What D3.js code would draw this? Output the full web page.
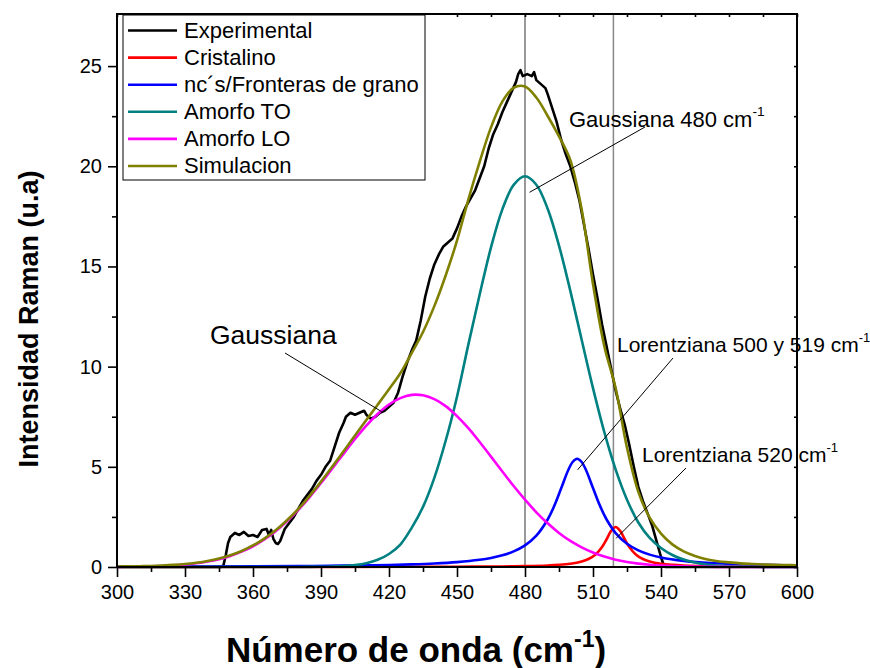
<!DOCTYPE html>
<html>
<head>
<meta charset="utf-8">
<script src="https://cdn.jsdelivr.net/npm/d3@7"></script>
<style>
  html, body { margin: 0; padding: 0; background: #fff; }
  svg { display: block; }
  text { font-family: "Liberation Sans", Arial, sans-serif; }
</style>
</head>
<body>
<svg id="chart" width="870" height="668"></svg>
<script>
// ---------------- data ----------------
const xTicks = [300, 330, 360, 390, 420, 450, 480, 510, 540, 570, 600];
const xMinorTicks = [315, 345, 375, 405, 435, 465, 495, 525, 555, 585];
const yTicks = [0, 5, 10, 15, 20, 25];
const yMinorTicks = [2.5, 7.5, 12.5, 17.5, 22.5];

const seriesNames = ["Experimental", "Cristalino", "nc´s/Fronteras de grano", "Amorfo TO", "Amorfo LO", "Simulacion"];
const seriesColors = ["#000000", "#ff0000", "#0000ff", "#008080", "#ff00ff", "#808000"];

// experimental spectrum
const expShift = [300,320,340,346,347,348,349,350,352,354,356,358,360,362,364,366,367,368,369,370,371,372,374,376,378,380,382,384,386,388,390,392,394,396,398,400,401,403,405,407,409,410,412,414,416,418,420,422,424,426,428,430,432,434,436,438,440,442,444,446,448,450,452,454,456,458,460,462,464,466,468,470,472,474,476,477,478,479,481,483,484,485,487,488,489,490,492,494,496,498,500,502,504,506,508,510,512,514,516,518,520,522,524,526,528,530,532,534,536,538,540,541,542,560,580,600];
const expIntensity = [0,0,0,0,0.1,0.6,1.2,1.5,1.7,1.6,1.75,1.55,1.6,1.5,1.85,1.9,1.6,1.85,1.4,1.2,1.15,1.3,1.9,2.2,2.5,2.9,3.3,3.6,3.9,4.3,4.6,5.0,5.3,6.0,6.7,7.2,7.5,7.7,7.6,7.7,7.8,7.6,7.4,7.5,7.7,7.8,8.0,8.2,8.7,9.5,10.2,10.8,11.3,12.3,13.5,14.4,15.1,15.6,16.0,16.2,16.4,16.9,17.5,18.0,18.4,18.8,19.4,20.0,20.9,21.6,22.1,22.7,23.2,23.7,24.2,24.6,24.8,24.5,24.6,24.5,24.7,24.3,24.1,24.0,23.9,23.6,22.9,22.2,21.3,20.6,20.0,19.2,18.3,17.1,15.9,14.6,13.4,12.1,11.0,9.9,8.8,7.9,7.1,6.1,5.0,4.0,3.3,2.7,2.1,1.3,0.5,0.15,0,0,0,0];

// Cristalino (Lorentziana 520)
const crShift = [300,350,400,430,450,460,470,480,490,495,500,505,508,511,514,516,518,520,522,524,526,529,532,535,540,545,550,560,570,580,600];
const crIntensity = [0.0015,0.0025,0.005,0.0088,0.0146,0.0198,0.0284,0.044,0.0769,0.109,0.165,0.276,0.40,0.615,1.0,1.385,1.8,2.0,1.8,1.385,1.0,0.615,0.40,0.276,0.165,0.109,0.0769,0.044,0.0284,0.0198,0.0111];

// nc's / Fronteras de grano (Lorentziana 500)
const ncShift = [300,320,340,360,380,400,410,420,430,440,450,460,465,470,475,480,485,490,493,496,499,501,503,505,507,510,513,516,520,525,530,535,540,550,560,570,580,590,600];
const ncIntensity = [0.0173,0.0212,0.0267,0.0347,0.0468,0.0665,0.0813,0.1017,0.1308,0.174,0.243,0.360,0.453,0.585,0.779,1.08,1.565,2.37,3.075,3.94,4.817,5.24,5.4,5.24,4.817,3.94,3.075,2.37,1.695,1.159,0.829,0.618,0.476,0.305,0.211,0.155,0.118,0.0928,0.0749];

// fitted Gaussians and simulation on a common grid
const fitShift = [300,305,310,315,320,325,330,335,340,345,350,355,360,365,370,375,380,385,390,395,400,405,410,415,420,425,430,435,440,445,450,455,460,465,470,475,480,485,490,495,500,505,510,515,520,525,530,535,540,545,550,555,560,565,570,575,580,585,590,595,600];
const amorfoTO = [0,0,0,0,0,0,0,0,0,0,0,0,0,0,0,0,0.002,0.004,0.009,0.021,0.046,0.096,0.19,0.36,0.65,1.12,1.95,3.0,4.45,6.3,8.5,11.1,13.6,15.95,17.85,19.07,19.5,19.08,17.88,16.04,13.78,11.34,8.93,6.73,4.86,3.36,2.22,1.45,0.95,0.60,0.37,0.22,0.12,0.07,0.04,0.02,0.01,0.005,0,0,0];
const amorfoLO = [0.007,0.012,0.020,0.032,0.051,0.080,0.123,0.185,0.272,0.392,0.553,0.765,1.036,1.376,1.79,2.28,2.85,3.49,4.19,4.92,5.66,6.39,7.06,7.64,8.11,8.43,8.59,8.57,8.38,8.03,7.53,6.93,6.24,5.51,4.77,4.04,3.36,2.73,2.18,1.70,1.30,0.98,0.72,0.52,0.36,0.25,0.17,0.113,0.074,0.047,0.029,0.018,0.011,0.006,0.004,0.002,0.001,0.001,0,0,0];
const simulacion = [0.026,0.032,0.040,0.053,0.074,0.104,0.148,0.212,0.30,0.42,0.586,0.80,1.074,1.416,1.83,2.33,2.90,3.55,4.26,5.01,5.78,6.56,7.34,8.10,8.87,9.67,10.68,11.73,13.02,14.55,16.29,18.34,20.22,21.94,23.23,23.92,23.98,23.43,22.51,21.49,20.31,17.84,14.12,11.02,8.92,5.95,3.75,2.46,1.67,1.13,0.78,0.55,0.39,0.29,0.23,0.18,0.15,0.126,0.108,0.096,0.086];

// reference lines (cm-1)
const refLines = [480, 519];

// ---------------- drawing ----------------
const svg = d3.select("#chart");
const m = { left: 117, right: 797, top: 14, bottom: 567 };
const x = d3.scaleLinear().domain([300, 600]).range([m.left, m.right]);
const y = d3.scaleLinear().domain([0, 27.6]).range([m.bottom, m.top]);

const zip = (xs, ys) => xs.map((v, i) => [v, ys[i]]);

// vertical reference lines
svg.append("line").attr("x1", x(refLines[0])).attr("x2", x(refLines[0]))
  .attr("y1", m.top).attr("y2", m.bottom).attr("stroke", "#333").attr("stroke-width", 1);
svg.append("line").attr("x1", x(refLines[1])).attr("x2", x(refLines[1]))
  .attr("y1", m.top).attr("y2", m.bottom).attr("stroke", "#888").attr("stroke-width", 1.5);

const smooth = d3.line().x(d => x(d[0])).y(d => y(d[1])).curve(d3.curveCatmullRom.alpha(0.5));
const raw = d3.line().x(d => x(d[0])).y(d => y(d[1]));

const series = [
  { data: zip(expShift, expIntensity), gen: raw },
  { data: zip(crShift, crIntensity), gen: smooth },
  { data: zip(ncShift, ncIntensity), gen: smooth },
  { data: zip(fitShift, amorfoTO), gen: smooth },
  { data: zip(fitShift, amorfoLO), gen: smooth },
  { data: zip(fitShift, simulacion), gen: smooth }
];
series.forEach((s, i) => {
  svg.append("path").attr("d", s.gen(s.data)).attr("fill", "none")
    .attr("stroke", seriesColors[i]).attr("stroke-width", 2.6)
    .attr("stroke-linejoin", "round");
});

// axes
const axisG = svg.append("g");
const xAxis = axisG.append("g").attr("transform", `translate(0,${m.bottom})`)
  .call(d3.axisBottom(x).tickValues(xTicks).tickSize(10).tickPadding(8).tickFormat(d3.format("d")));
const xMinor = axisG.append("g").attr("transform", `translate(0,${m.bottom})`)
  .call(d3.axisBottom(x).tickValues(xMinorTicks).tickSize(5).tickFormat(""));
const yAxis = axisG.append("g").attr("transform", `translate(${m.left},0)`)
  .call(d3.axisLeft(y).tickValues(yTicks).tickSize(9).tickPadding(6).tickFormat(d3.format("d")));
const yMinor = axisG.append("g").attr("transform", `translate(${m.left},0)`)
  .call(d3.axisLeft(y).tickValues(yMinorTicks).tickSize(5).tickFormat(""));
// top and right (inward small ticks)
const xTop = axisG.append("g").attr("transform", `translate(0,${m.top})`)
  .call(d3.axisBottom(x).tickValues(xTicks.concat(xMinorTicks)).tickSize(3).tickFormat(""));
const yRight = axisG.append("g").attr("transform", `translate(${m.right},0)`)
  .call(d3.axisLeft(y).tickValues(yTicks.concat(yMinorTicks)).tickSize(3).tickFormat(""));

[xAxis, xMinor, yAxis, yMinor, xTop, yRight].forEach(g => {
  g.select(".domain").remove();
  g.selectAll(".tick line").attr("stroke", "#000").attr("stroke-width", 1.6);
  g.selectAll(".tick text").attr("font-size", 20).attr("fill", "#000")
    .style("font-family", "'Liberation Sans', Arial, sans-serif");
});

// frame
svg.append("rect").attr("x", m.left).attr("y", m.top)
  .attr("width", m.right - m.left).attr("height", m.bottom - m.top)
  .attr("fill", "none").attr("stroke", "#000").attr("stroke-width", 2);

// annotations with leader lines
const leader = (x1, y1, x2, y2) => svg.append("line")
  .attr("x1", x1).attr("y1", y1).attr("x2", x2).attr("y2", y2)
  .attr("stroke", "#000").attr("stroke-width", 1);

function supText(tx, ty, main, sup, size) {
  const t = svg.append("text").attr("x", tx).attr("y", ty).attr("font-size", size).attr("fill", "#000");
  t.append("tspan").text(main);
  if (sup) t.append("tspan").attr("font-size", size * 0.62).attr("dy", -size * 0.48).text(sup);
  return t;
}

// Gaussiana (LO)
supText(210, 344, "Gaussiana", null, 26.5);
leader(285, 353, x(416.8), y(7.75));
// Gaussiana 480
supText(569, 127, "Gaussiana 480 cm", "-1", 22);
leader(645, 127, x(482), y(18.7));
// Lorentziana 500 y 519
supText(617, 352, "Lorentziana 500 y 519 cm", "-1", 21);
leader(673, 358, x(503.2), y(4.85));
// Lorentziana 520
supText(642, 462, "Lorentziana 520 cm", "-1", 21);
leader(686, 468, x(520.2), y(1.43));

// axis titles
const xt = svg.append("text").attr("x", 416).attr("y", 662).attr("text-anchor", "middle")
  .attr("font-size", 35).attr("font-weight", "bold").attr("fill", "#000");
xt.append("tspan").text("Número de onda (cm");
xt.append("tspan").attr("font-size", 23).attr("dy", -15).text("-1");
xt.append("tspan").attr("dy", 15).text(")");

svg.append("text").attr("transform", "translate(38,319) rotate(-90)").attr("text-anchor", "middle")
  .attr("font-size", 27).attr("font-weight", "bold").attr("fill", "#000")
  .text("Intensidad Raman (u.a)");

// legend
const lg = svg.append("g");
lg.append("rect").attr("x", 123).attr("y", 15).attr("width", 302).attr("height", 165)
  .attr("fill", "#fff").attr("stroke", "#000").attr("stroke-width", 1);
seriesNames.forEach((name, i) => {
  const by = 37.5 + i * 27.1;
  lg.append("line").attr("x1", 128).attr("x2", 177).attr("y1", by - 7).attr("y2", by - 7)
    .attr("stroke", seriesColors[i]).attr("stroke-width", 2.6);
  lg.append("text").attr("x", 184).attr("y", by).attr("font-size", 22).attr("fill", "#000").text(name);
});
</script>
</body>
</html>
